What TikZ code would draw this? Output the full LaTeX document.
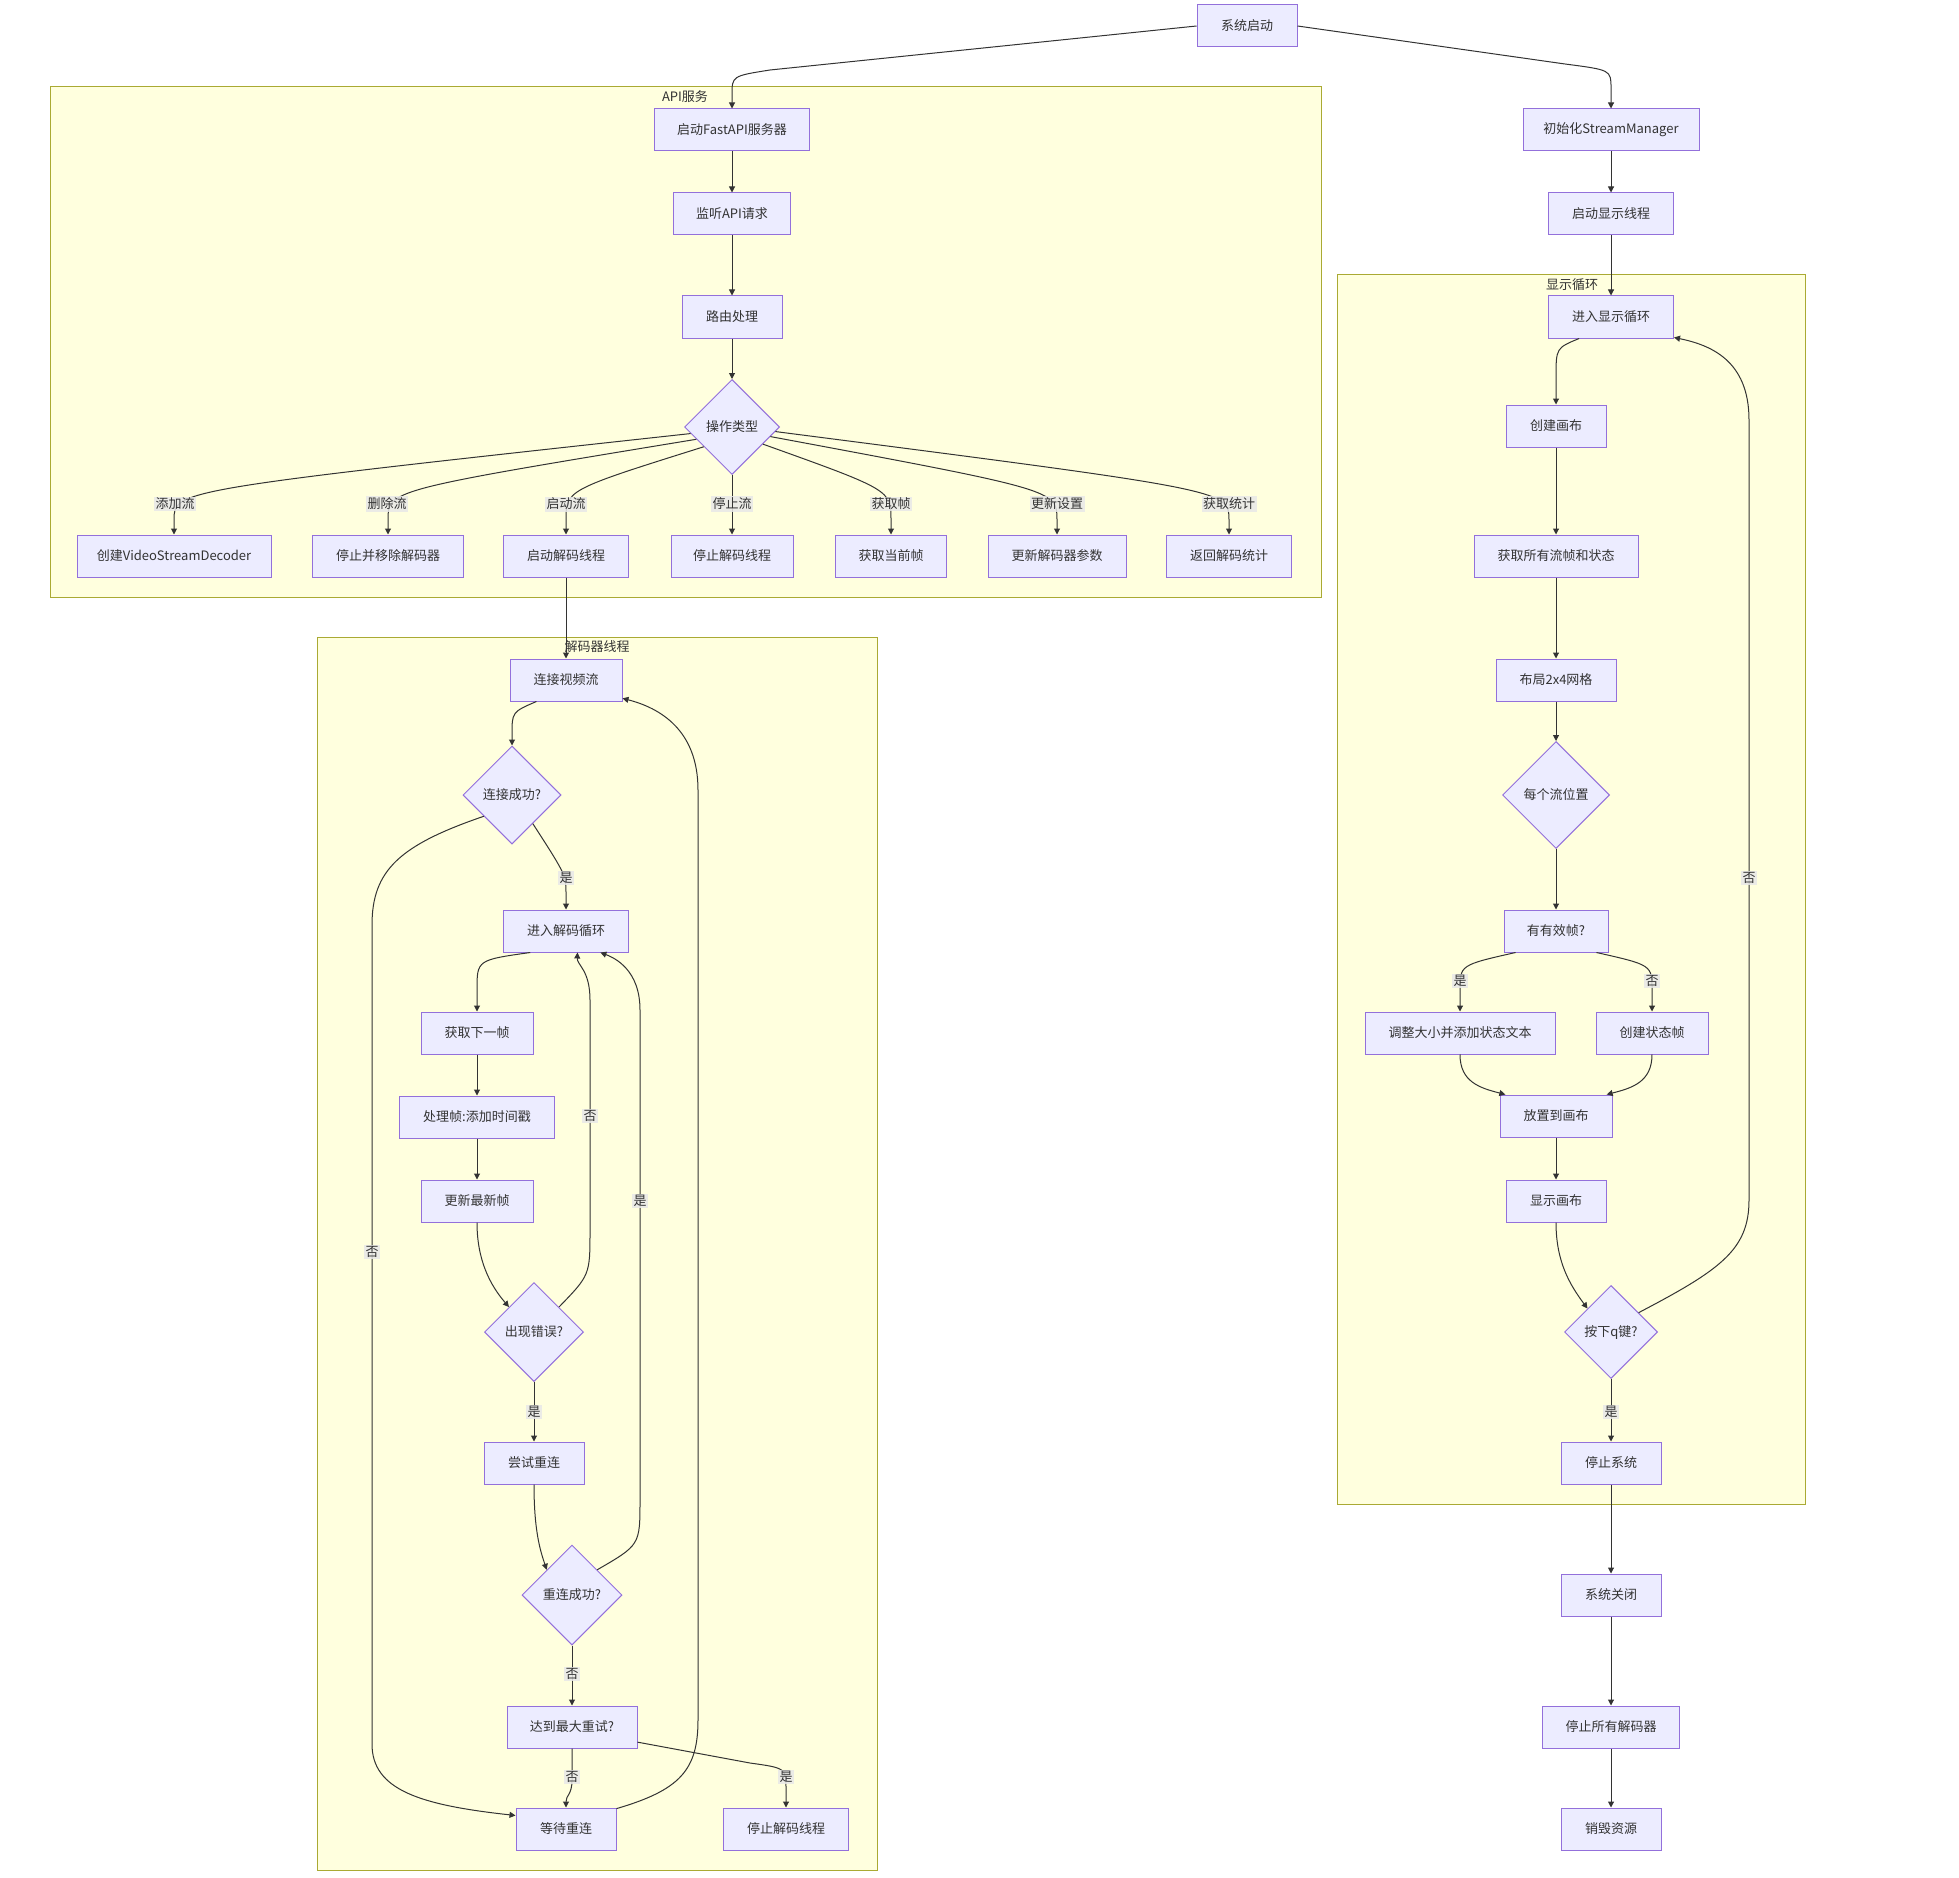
\documentclass[tikz,border=0pt]{standalone}
\usepackage{fontspec}
\setmainfont{Noto Sans CJK SC}
\usetikzlibrary{shapes.geometric,arrows.meta}
\definecolor{nodefill}{HTML}{ECECFF}
\definecolor{nodeline}{HTML}{9370DB}
\definecolor{clfill}{HTML}{FFFFDE}
\definecolor{clline}{HTML}{AAAA33}
\definecolor{edgecol}{HTML}{333333}
\definecolor{lblbg}{HTML}{E8E8E8}
\begin{document}
\begin{tikzpicture}[x=1pt,y=-1pt,
  font=\fontsize{13}{15}\selectfont,
  box/.style={draw=nodeline, fill=nodefill, line width=1pt, minimum height=42pt, inner sep=0pt, text=edgecol, minimum width=#1},
  dia/.style={diamond, draw=nodeline, fill=nodefill, line width=1pt, inner sep=0pt, text=edgecol, minimum width=#1, minimum height=#1},
  cluster/.style={draw=clline, fill=clfill, line width=1pt},
  cltitle/.style={text=edgecol, inner sep=0pt},
  edge/.style={draw=edgecol, line width=1pt, -{Triangle[length=6pt,width=6pt]}},
  lbl/.style={fill=lblbg, fill opacity=0.85, text opacity=1, text=edgecol, inner sep=1.5pt},
]
\useasboundingbox (0,0) rectangle (1959,1878);
\fill[white] (0,0) rectangle (1959,1878);

% clusters
\draw[cluster] (50,87) rectangle (1321,597);
\node[cltitle] (tapi) at (685,97) {API服务};
\draw[cluster] (317,637) rectangle (877,1870);
\node[cltitle] (tdec) at (597,647) {解码器线程};
\draw[cluster] (1337,275) rectangle (1805,1504);
\node[cltitle] (tdisp) at (1572,285) {显示循环};

% top
\node[box=100pt] (sys) at (1247,26) {系统启动};

% API service
\node[box=155pt] (fast) at (732,130) {启动FastAPI服务器};
\node[box=117pt] (listen) at (732,214) {监听API请求};
\node[box=100pt] (route) at (732,317) {路由处理};
\node[dia=95pt] (op) at (732,427) {操作类型};
\node[box=194pt] (a1) at (174,556) {创建VideoStreamDecoder};
\node[box=151pt] (a2) at (388,556) {停止并移除解码器};
\node[box=125pt] (a3) at (566,556) {启动解码线程};
\node[box=122pt] (a4) at (732,556) {停止解码线程};
\node[box=111pt] (a5) at (891,556) {获取当前帧};
\node[box=138pt] (a6) at (1057,556) {更新解码器参数};
\node[box=125pt] (a7) at (1229,556) {返回解码统计};

% right column
\node[box=176pt] (init) at (1611,130) {初始化StreamManager};
\node[box=125pt] (dth) at (1611,214) {启动显示线程};
\node[box=125pt] (denter) at (1611,317) {进入显示循环};
\node[box=100pt] (dcanvas) at (1556,426) {创建画布};
\node[box=164pt] (dgetall) at (1556,556) {获取所有流帧和状态};
\node[box=120pt] (dlayout) at (1556,680) {布局2x4网格};
\node[dia=107pt] (dpos) at (1556,795) {每个流位置};
\node[box=104pt] (dvalid) at (1556,931) {有有效帧?};
\node[box=190pt] (dresize) at (1460,1033) {调整大小并添加状态文本};
\node[box=112pt] (dstf) at (1652,1033) {创建状态帧};
\node[box=112pt] (dplace) at (1556,1116) {放置到画布};
\node[box=100pt] (dshow) at (1556,1201) {显示画布};
\node[dia=93pt] (dqkey) at (1611,1332) {按下q键?};
\node[box=100pt] (dstopsys) at (1611,1463) {停止系统};
\node[box=100pt] (shut) at (1611,1595) {系统关闭};
\node[box=137pt] (stopall) at (1611,1727) {停止所有解码器};
\node[box=100pt] (destroy) at (1611,1829) {销毁资源};

% decoder thread
\node[box=112pt] (dconn) at (566,680) {连接视频流};
\node[dia=98pt] (dok) at (512,795) {连接成功?};
\node[box=125pt] (dloop) at (566,931) {进入解码循环};
\node[box=112pt] (dnext) at (477,1033) {获取下一帧};
\node[box=155pt] (dproc) at (477,1117) {处理帧:添加时间戳};
\node[box=112pt] (dupd) at (477,1201) {更新最新帧};
\node[dia=99pt] (derr) at (534,1332) {出现错误?};
\node[box=100pt] (dretry) at (534,1463) {尝试重连};
\node[dia=100pt] (drec) at (572,1595) {重连成功?};
\node[box=130pt] (dmax) at (572,1727) {达到最大重试?};
\node[box=100pt] (dwait) at (566,1829) {等待重连};
\node[box=125pt] (dstop2) at (786,1829) {停止解码线程};

% ---- edges: top
\draw[edge] (sys.west) -- (770,70) .. controls (732,76) .. (732,95) -- (fast.north);
\draw[edge] (sys.east) -- (1565,64) .. controls (1611,70) .. (1611,88) -- (init.north);

% API
\draw[edge] (fast) -- (listen);
\draw[edge] (listen) -- (route);
\draw[edge] (route) -- (op);
\draw[edge] (op.189) .. controls (174,490) .. (174,520) -- (a1.north);
\draw[edge] (op.199) .. controls (388,490) .. (388,520) -- (a2.north);
\draw[edge] (op.215) .. controls (566,490) .. (566,520) -- (a3.north);
\draw[edge] (op.south) -- (a4.north);
\draw[edge] (op.331) .. controls (891,490) .. (891,520) -- (a5.north);
\draw[edge] (op.346) .. controls (1057,490) .. (1057,520) -- (a6.north);
\draw[edge] (op.354) .. controls (1229,490) .. (1229,520) -- (a7.north);
\node[lbl] (l1) at (175,504) {添加流};
\node[lbl] (l2) at (387,504) {删除流};
\node[lbl] (l3) at (566,504) {启动流};
\node[lbl] (l4) at (732,504) {停止流};
\node[lbl] (l5) at (891,504) {获取帧};
\node[lbl] (l6) at (1057,504) {更新设置};
\node[lbl] (l7) at (1229,504) {获取统计};

% API -> decoder
\draw[edge] (a3.south) -- (dconn.north);

% decoder thread
\draw[edge] (dconn.216) .. controls (512,712) .. (512,735) -- (dok.north);
\draw[edge] (dok.306) .. controls (566,875) .. (566,895) -- (dloop.north);
\draw[edge] (dok.217) .. controls (400,845) and (372,870) .. (372,925) -- (372,1744) .. controls (372,1790) and (420,1805) .. (dwait.165);
\draw[edge] (dloop.211) .. controls (477,960) .. (477,990) -- (dnext.north);
\draw[edge] (dnext) -- (dproc);
\draw[edge] (dproc) -- (dupd);
\draw[edge] (dupd.south) .. controls (477,1260) and (490,1285) .. (derr.135);
\draw[edge] (derr.45) .. controls (590,1275) .. (590,1230) -- (590,1000) .. controls (590,970) and (577,965) .. (dloop.298);
\draw[edge] (derr.south) -- (dretry.north);
\draw[edge] (dretry.south) .. controls (534,1530) and (540,1550) .. (drec.135);
\draw[edge] (drec.45) .. controls (640,1545) .. (640,1500) -- (640,1010) .. controls (640,970) and (615,958) .. (dloop.328);
\draw[edge] (drec.south) -- (dmax.north);
\draw[edge] (dmax.south) -- (572,1780) .. controls (572,1795) and (566,1795) .. (dwait.north);
\draw[edge] (dmax.347) -- (750,1763) .. controls (786,1768) .. (786,1790) -- (dstop2.north);
\draw[edge] (dwait.22) .. controls (680,1790) and (698,1770) .. (698,1720) -- (698,790) .. controls (698,730) and (660,708) .. (dconn.342);
\node[lbl] (k1) at (566,878) {是};
\node[lbl] (k2) at (590,1116) {否};
\node[lbl] (k3) at (640,1201) {是};
\node[lbl] (k4) at (372,1252) {否};
\node[lbl] (k5) at (534,1412) {是};
\node[lbl] (k6) at (572,1674) {否};
\node[lbl] (k7) at (572,1777) {否};
\node[lbl] (k8) at (786,1777) {是};

% display
\draw[edge] (init) -- (dth);
\draw[edge] (dth) -- (denter);
\draw[edge] (denter.214) .. controls (1556,348) .. (1556,378) -- (dcanvas.north);
\draw[edge] (dcanvas) -- (dgetall);
\draw[edge] (dgetall) -- (dlayout);
\draw[edge] (dlayout) -- (dpos);
\draw[edge] (dpos) -- (dvalid);
\draw[edge] (dvalid.208) .. controls (1460,965) .. (1460,990) -- (dresize.north);
\draw[edge] (dvalid.332) .. controls (1652,965) .. (1652,990) -- (dstf.north);
\draw[edge] (dresize.south) .. controls (1460,1082) and (1480,1088) .. (dplace.157);
\draw[edge] (dstf.south) .. controls (1652,1082) and (1632,1088) .. (dplace.23);
\draw[edge] (dplace) -- (dshow);
\draw[edge] (dshow.south) .. controls (1556,1262) and (1570,1285) .. (dqkey.135);
\draw[edge] (dqkey.35) .. controls (1720,1270) and (1749,1250) .. (1749,1200) -- (1749,420) .. controls (1749,360) and (1710,345) .. (denter.342);
\draw[edge] (dqkey.south) -- (dstopsys.north);
\draw[edge] (dstopsys) -- (shut);
\draw[edge] (shut) -- (stopall);
\draw[edge] (stopall) -- (destroy);
\node[lbl] (m1) at (1460,981) {是};
\node[lbl] (m2) at (1652,981) {否};
\node[lbl] (m3) at (1611,1412) {是};
\node[lbl] (m4) at (1749,878) {否};
\end{tikzpicture}
\end{document}
